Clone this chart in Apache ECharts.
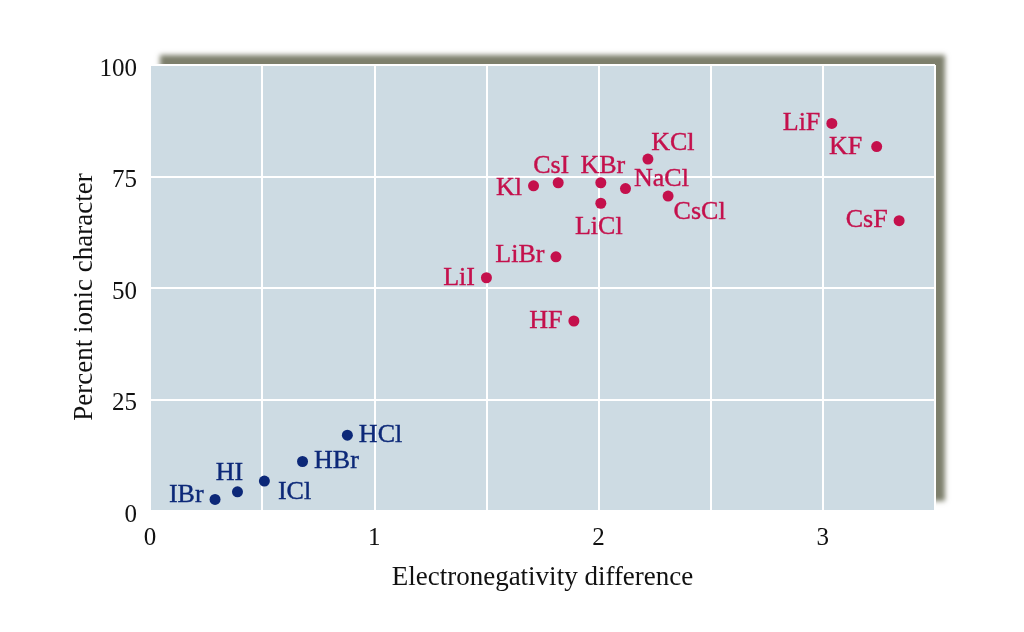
<!DOCTYPE html>
<html>
<head>
<meta charset="utf-8">
<script src="https://cdn.jsdelivr.net/npm/echarts@6/dist/echarts.min.js"></script>
<style>html,body{margin:0;padding:0;background:#fff;}#c{width:1024px;height:632px;}</style>
</head>
<body>
<div id="c"></div>
<script>
// Ionic compounds (red)
const ionicNames = ['LiI','LiBr','HF','KI','CsI','KBr','LiCl','NaCl','KCl','CsCl','LiF','KF','CsF'];
const ionicX =     [1.50, 1.81, 1.89, 1.71, 1.82, 2.01, 2.01, 2.12, 2.22, 2.31, 3.04, 3.24, 3.34];
const ionicY =     [52.3, 57.0, 42.6, 72.9, 73.6, 73.6, 69.0, 72.3, 78.9, 70.6, 86.9, 81.7, 65.1];
const ionicLabels = ['LiI','LiBr','HF','Kl','CsI','KBr','LiCl','NaCl','KCl','CsCl','LiF','KF','CsF'];
// Covalent compounds (blue)
const covNames = ['IBr','HI','ICl','HBr','HCl'];
const covX =     [0.29, 0.39, 0.51, 0.68, 0.88];
const covY =     [2.6, 4.3, 6.7, 11.1, 17.0];
// Axis ticks
const xTicks = [0, 1, 2, 3];
const yTicks = [0, 25, 50, 75, 100];

const place = {
  IBr:{position:'left', offset:[0,-4]},
  HI:{position:'top', offset:[-8,6]},
  ICl:{position:'right', offset:[2,11]},
  HBr:{position:'right', offset:[0,0]},
  HCl:{position:'right', offset:[0,0]},
  LiI:{position:'left', offset:[0,0]},
  LiBr:{position:'left', offset:[0,-2]},
  HF:{position:'left', offset:[0,0]},
  KI:{position:'left', offset:[0,2]},
  CsI:{position:'top', offset:[-7,8]},
  KBr:{position:'top', offset:[2,8]},
  LiCl:{position:'bottom', offset:[-2,-1]},
  NaCl:{position:'right', offset:[-3,-9]},
  KCl:{position:'top', offset:[25,9]},
  CsCl:{position:'right', offset:[-6,16]},
  LiF:{position:'left', offset:[0,0]},
  KF:{position:'left', offset:[-3,1]},
  CsF:{position:'left', offset:[0,0]}
};

const FONT = '"Liberation Serif","DejaVu Serif",serif';
const RED = '#c4104c';
const BLUE = '#0c2878';

function build(names, xs, ys, labels) {
  return names.map((n, i) => ({
    name: n,
    value: [xs[i], ys[i]],
    label: Object.assign({show:true, formatter: labels ? labels[i] : n, distance: 6}, place[n])
  }));
}

const chart = echarts.init(document.getElementById('c'));
chart.setOption({
  backgroundColor: '#ffffff',
  animation: false,
  grid: {
    left: 150, right: 89, top: 65, bottom: 121,
    show: true,
    backgroundColor: '#cddbe3',
    borderWidth: 0,
    shadowColor: 'rgba(125,127,108,1)',
    shadowBlur: 5,
    shadowOffsetX: 10,
    shadowOffsetY: -10
  },
  xAxis: {
    type: 'value', min: 0, max: 3.5, interval: 0.5,
    name: 'Electronegativity difference',
    nameLocation: 'middle', nameGap: 53,
    nameTextStyle: {fontFamily: FONT, fontSize: 27, color: '#111'},
    axisLine: {show: false}, axisTick: {show: false},
    axisLabel: {
      fontFamily: FONT, fontSize: 25, color: '#111', margin: 15,
      formatter: v => xTicks.indexOf(v) >= 0 ? String(v) : ''
    },
    splitLine: {show: true, lineStyle: {color: '#ffffff', width: 2}}
  },
  yAxis: {
    type: 'value', min: 0, max: 100, interval: 25,
    name: 'Percent ionic character',
    nameLocation: 'middle', nameGap: 52,
    nameMoveOverlap: false,
    nameTextStyle: {fontFamily: FONT, fontSize: 27, color: '#111', padding: [0, 18, 0, 0]},
    axisLine: {show: false}, axisTick: {show: false},
    axisLabel: {
      fontFamily: FONT, fontSize: 25, color: '#111', margin: 13,
      formatter: v => yTicks.indexOf(v) >= 0 ? '{t|' + v + '}' : '',
      rich: {t: {fontFamily: FONT, fontSize: 25, color: '#111', padding: [8, 0, 0, 0]}}
    },
    splitLine: {show: true, lineStyle: {color: '#ffffff', width: 2}}
  },
  series: [
    {
      type: 'scatter', symbol: 'circle', symbolSize: 11,
      itemStyle: {color: RED, opacity: 1},
      label: {fontFamily: FONT, fontSize: 26, color: RED, textBorderColor: RED, textBorderWidth: 0.4},
      data: build(ionicNames, ionicX, ionicY, ionicLabels)
    },
    {
      type: 'scatter', symbol: 'circle', symbolSize: 11,
      itemStyle: {color: BLUE, opacity: 1},
      label: {fontFamily: FONT, fontSize: 26, color: BLUE, textBorderColor: BLUE, textBorderWidth: 0.4},
      data: build(covNames, covX, covY)
    }
  ]
});
</script>
</body>
</html>
